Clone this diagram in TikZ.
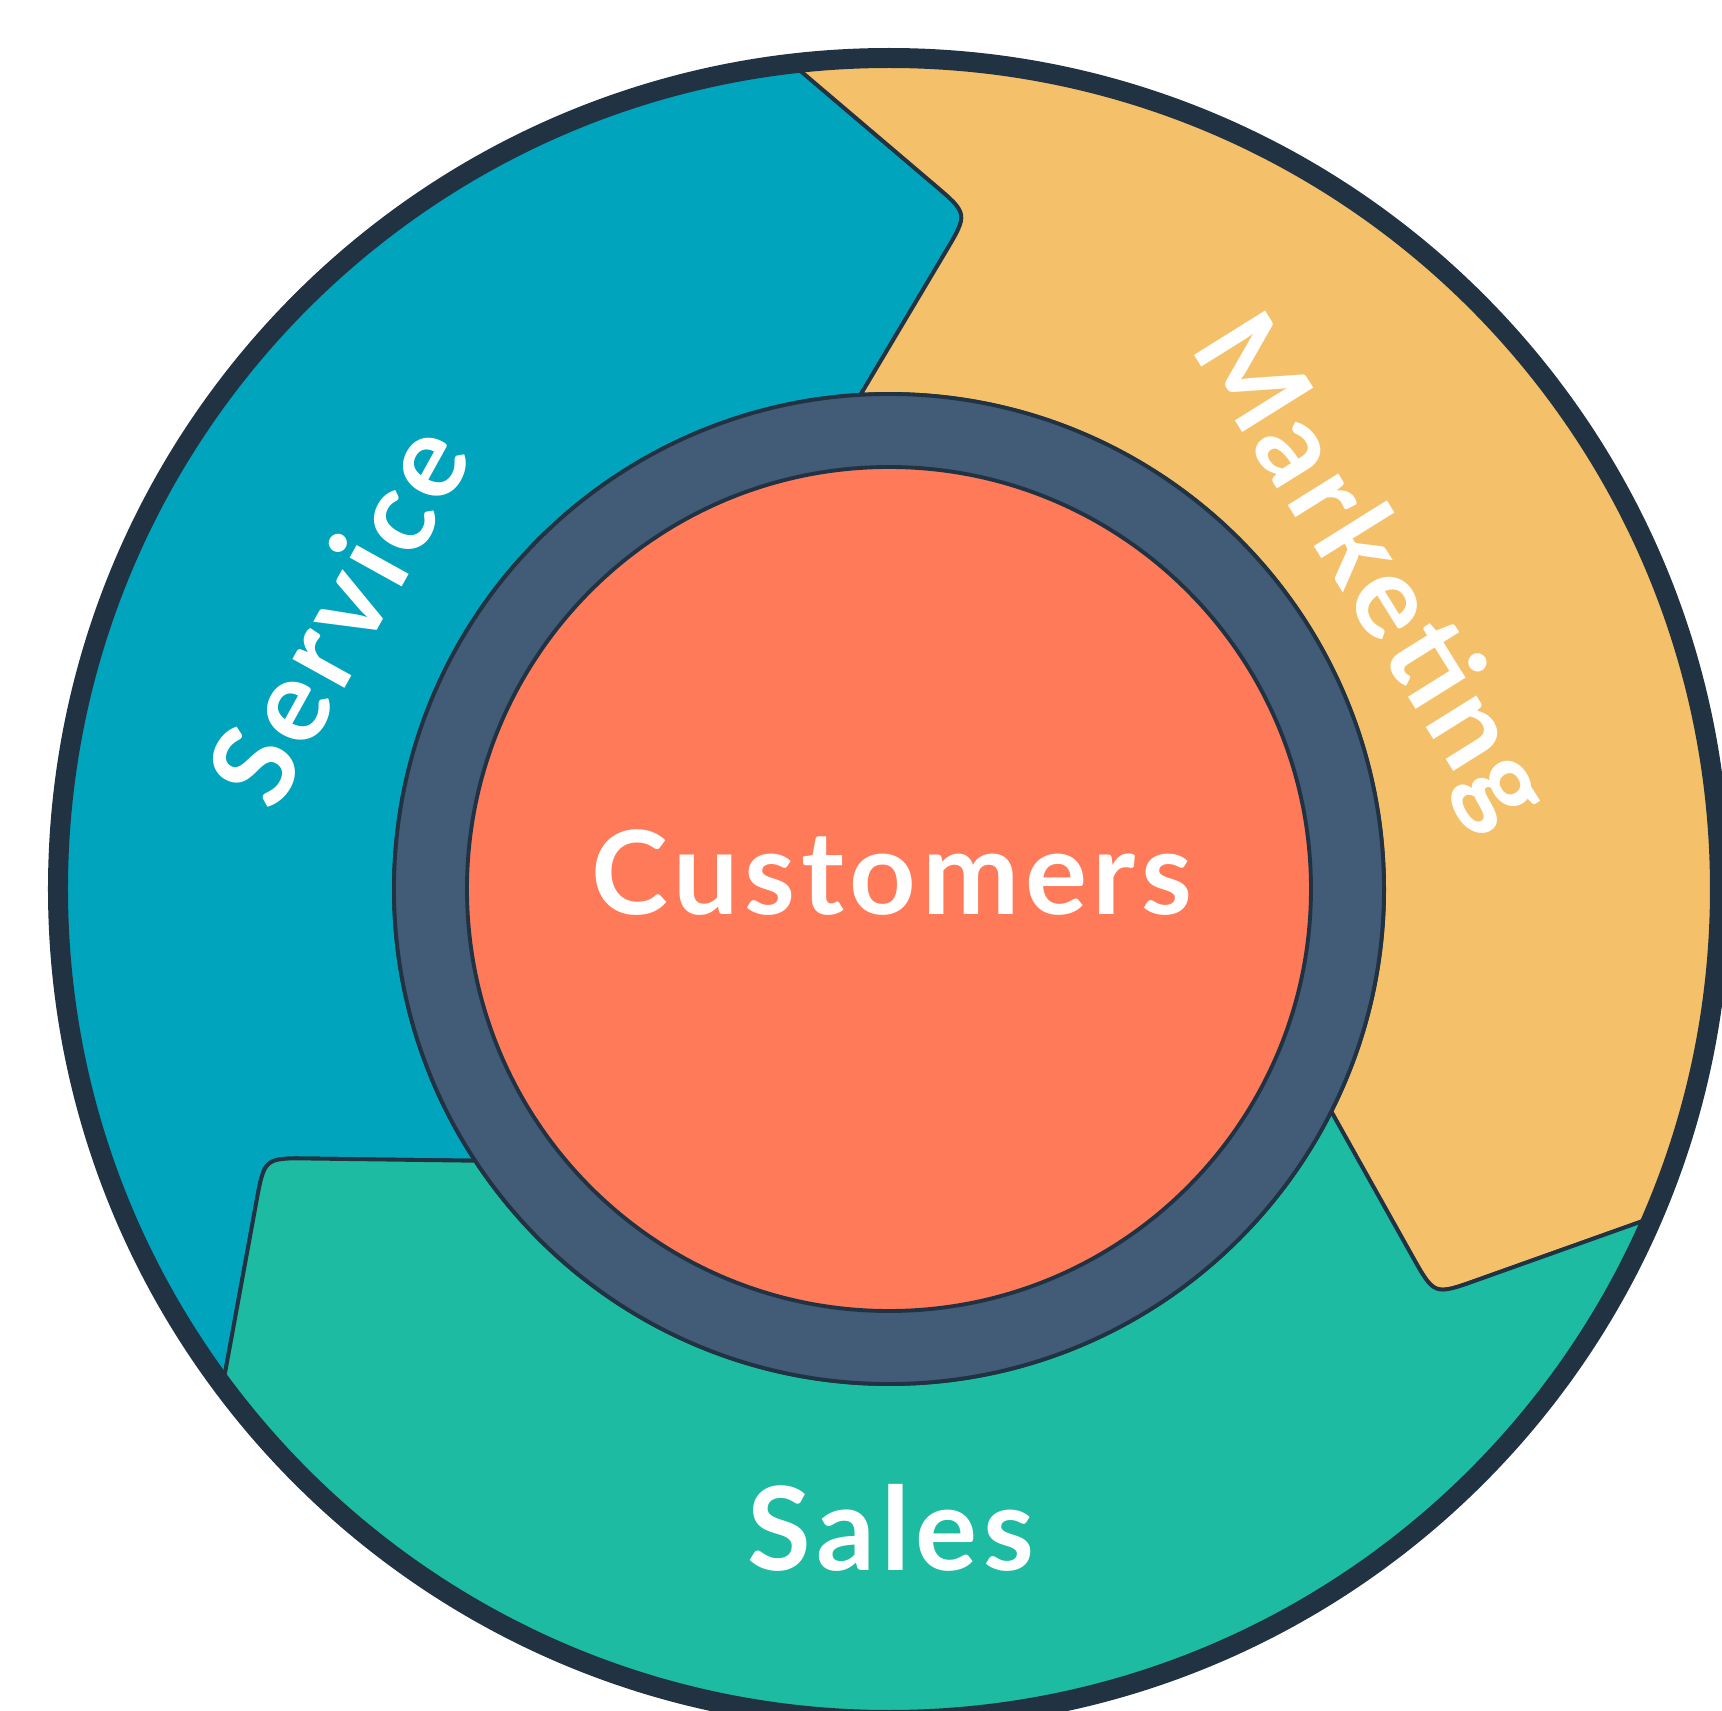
\documentclass[tikz,border=0pt]{standalone}
\usepackage{fontspec}
\setmainfont{Lato}[LetterSpace=5]
\usetikzlibrary{calc}
\definecolor{service}{HTML}{00A4BD}
\definecolor{marketing}{HTML}{F4C16A}
\definecolor{sales}{HTML}{1DBBA1}
\definecolor{customer}{HTML}{FF7A59}
\definecolor{hub}{HTML}{425B76}
\definecolor{rim}{HTML}{213343}
\begin{document}
\begin{tikzpicture}[
  seg/.style={draw=rim, line width=1.1pt},
  lbl/.style={text=white, inner sep=0pt, font=\fontsize{33}{40}\selectfont\bfseries}]
\useasboundingbox (-8.89,-8.22) rectangle (8.33,8.89);
\clip (-8.89,-8.22) rectangle (8.33,8.89);
\path (93.3:4.95) coordinate (a1) (83.3:6.8) coordinate (t1) (96.7:8.31) coordinate (b1)
      (-26.7:4.95) coordinate (a2) (-36.7:6.8) coordinate (t2) (-23.3:8.31) coordinate (b2)
      (-146.7:4.95) coordinate (a3) (-156.7:6.8) coordinate (t3) (-143.3:8.31) coordinate (b3);
\filldraw[seg, fill=service] (b1) arc[start angle=96.7, end angle=216.7, radius=8.31]
  -- ($(t3)!0.45cm!(b3)$) .. controls (t3) .. ($(t3)!0.45cm!(a3)$) -- (a3)
  arc[start angle=213.3, end angle=93.3, radius=4.95]
  -- ($(t1)!0.45cm!(a1)$) .. controls (t1) .. ($(t1)!0.45cm!(b1)$) -- cycle;
\filldraw[seg, fill=marketing] (b1) arc[start angle=96.7, end angle=-23.3, radius=8.31]
  -- ($(t2)!0.45cm!(b2)$) .. controls (t2) .. ($(t2)!0.45cm!(a2)$) -- (a2)
  arc[start angle=-26.7, end angle=93.3, radius=4.95]
  -- ($(t1)!0.45cm!(a1)$) .. controls (t1) .. ($(t1)!0.45cm!(b1)$) -- cycle;
\filldraw[seg, fill=sales] (b2) arc[start angle=-23.3, end angle=-143.3, radius=8.31]
  -- ($(t3)!0.45cm!(b3)$) .. controls (t3) .. ($(t3)!0.45cm!(a3)$) -- (a3)
  arc[start angle=-146.7, end angle=-26.7, radius=4.95]
  -- ($(t2)!0.45cm!(a2)$) .. controls (t2) .. ($(t2)!0.45cm!(b2)$) -- cycle;
\filldraw[seg, fill=hub] (0,0) circle (4.95);
\filldraw[seg, fill=customer] (0,0) circle (4.22);
\draw[rim, line width=2mm] (0,0) circle (8.31);
\path (0.03,-0.26) node[lbl, anchor=base] (customers) {Customers}
      (0.02,-6.81) node[lbl, anchor=base] (sales) {Sales}
      (153.5:6.16) node[lbl, rotate=61] (service) {Service}
      (33.3:5.85) node[lbl, rotate=-58, text depth=0pt] (marketing) {Marketing};
\end{tikzpicture}
\end{document}
